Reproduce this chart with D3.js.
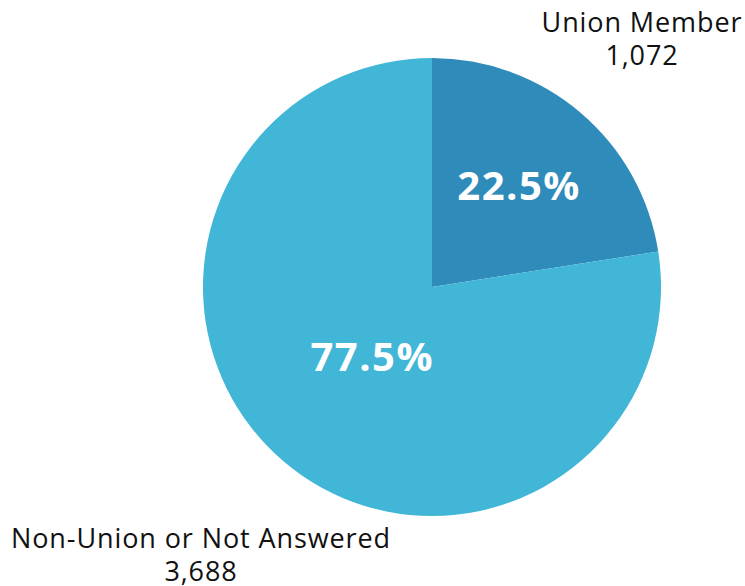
<!DOCTYPE html>
<html><head><meta charset="utf-8">
<script src="https://cdn.jsdelivr.net/npm/d3@7"></script>
<style>body{margin:0;background:#fff}svg{display:block}</style>
</head><body>
<svg id="c" width="745" height="586"></svg>
<script>
const categories = ["Union Member", "Non-Union or Not Answered"];
const counts = [1072, 3688];
const percentLabels = ["22.5%", "77.5%"];
const colors = ["#2E8BBA", "#41B6D6"];

const svg = d3.select("#c");
const cx = 432, cy = 287, r = 229;
const pie = d3.pie().sort(null).value(d => d)(counts);
const arc = d3.arc().innerRadius(0).outerRadius(r);
const g = svg.append("g").attr("transform", `translate(${cx},${cy})`);
g.selectAll("path").data(pie).join("path")
  .attr("d", arc).attr("fill", (d,i) => colors[i]);

const labelRadii = [134, 92];
g.selectAll("text.pct").data(pie).join("text").attr("class","pct")
  .attr("transform", (d,i) => {
    const a = d3.arc().innerRadius(labelRadii[i]).outerRadius(labelRadii[i]);
    const [x,y] = a.centroid(d);
    return `translate(${x},${y})`;
  })
  .attr("text-anchor","middle").attr("dy","0.36em")
  .attr("fill","#fff").attr("font-family","'Open Sans', sans-serif")
  .attr("font-weight","bold").attr("font-size",40).attr("letter-spacing",1.5)
  .text((d,i) => percentLabels[i]);

const fmt = d3.format(",");
const outer = [
  {x: 642, y: 32},
  {x: 201, y: 548}
];
categories.forEach((c,i) => {
  const t = svg.append("text").attr("text-anchor","middle")
    .attr("font-family","'Open Sans', sans-serif").attr("font-size",27)
    .attr("letter-spacing",0.9).attr("fill","#111");
  t.append("tspan").attr("x", outer[i].x).attr("y", outer[i].y).text(c);
  t.append("tspan").attr("x", outer[i].x).attr("y", outer[i].y + 33).text(fmt(counts[i]));
});
</script>
</body></html>
